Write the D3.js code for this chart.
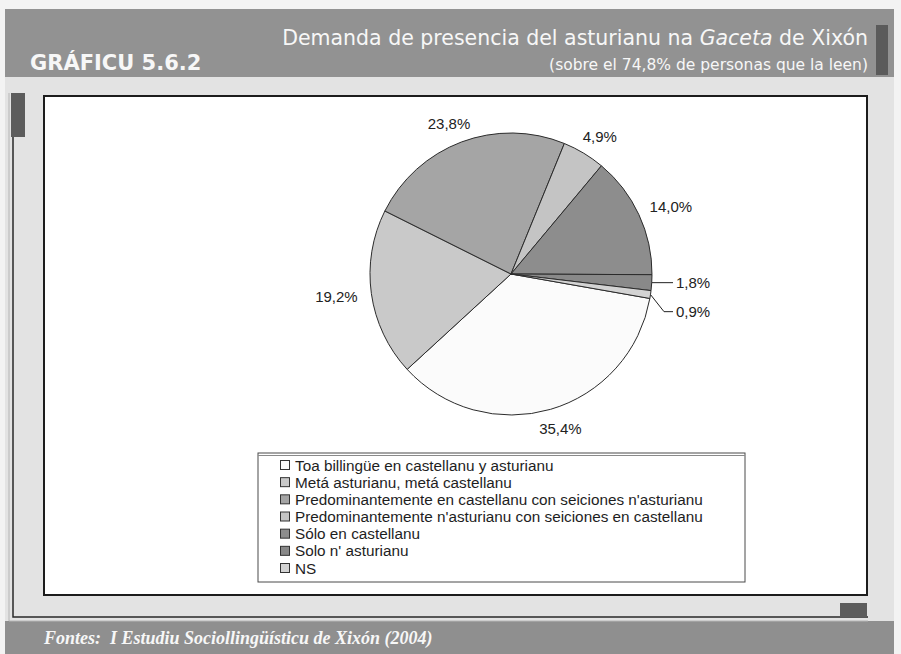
<!DOCTYPE html>
<html>
<head>
<meta charset="utf-8">
<script src="https://cdn.jsdelivr.net/npm/d3@7"></script>
<style>
  body { margin: 0; background: #f3f3f3; }
  svg { display: block; }
</style>
</head>
<body>
<svg id="chart" width="901" height="654"></svg>
<script>
// Categories of the Gaceta language demand, in pie order (clockwise)
const categories = [
  "Toa billingüe en castellanu y asturianu",
  "Metá asturianu, metá castellanu",
  "Predominantemente en castellanu con seiciones n'asturianu",
  "Predominantemente n'asturianu con seiciones en castellanu",
  "Sólo en castellanu",
  "Solo n' asturianu",
  "NS"
];
// Share of readers, percent
const values = [35.4, 19.2, 23.8, 4.9, 14.0, 1.8, 0.9];
// Grey fills for each slice
const sliceFills = ["#fbfbfb", "#c9c9c9", "#a5a5a5", "#c4c4c4", "#8d8d8d", "#898989", "#d3d3d3"];

const headerLabel = "GRÁFICU 5.6.2";
const titleParts = ["Demanda de presencia del asturianu na ", "Gaceta", " de Xixón"];
const subtitle = "(sobre el 74,8% de personas que la leen)";
const sourceNote = "Fontes:  I Estudiu Sociollingüísticu de Xixón (2004)";

const svg = d3.select("#chart");
const W = 901, H = 654;

// ---- page frame ----
svg.append("rect").attr("width", W).attr("height", H).attr("fill", "#f3f3f3");
svg.append("rect").attr("x", 5).attr("y", 77).attr("width", 889).attr("height", 544).attr("fill", "#e3e3e3");
svg.append("rect").attr("x", 5).attr("y", 9).attr("width", 889).attr("height", 68).attr("fill", "#929292");
svg.append("rect").attr("x", 5).attr("y", 621).attr("width", 889).attr("height", 33).attr("fill", "#8f8f8f");
svg.append("rect").attr("x", 876).attr("y", 25).attr("width", 12).attr("height", 50).attr("fill", "#5b5b5b");

// L-shaped outline with its two dark tabs
svg.append("path").attr("d", "M9,93V621H868").attr("fill", "none").attr("stroke", "#b5b5b5").attr("stroke-width", 1);
svg.append("path").attr("d", "M13,93V617H868").attr("fill", "none").attr("stroke", "#2a2a2a").attr("stroke-width", 1.5);
svg.append("rect").attr("x", 11).attr("y", 93).attr("width", 14).attr("height", 44).attr("fill", "#5c5c5c");
svg.append("rect").attr("x", 840).attr("y", 603).attr("width", 27).attr("height", 14).attr("fill", "#5c5c5c");

// chart area
svg.append("rect").attr("x", 44).attr("y", 96).attr("width", 823).attr("height", 499)
  .attr("fill", "#ffffff").attr("stroke", "#1c1c1c").attr("stroke-width", 2);

// ---- header texts ----
const title = svg.append("text").attr("x", 868).attr("y", 45).attr("text-anchor", "end")
  .attr("font-family", "DejaVu Sans").attr("font-size", 20.5).attr("fill", "#f7f7f7");
title.selectAll("tspan").data(titleParts).join("tspan")
  .attr("font-style", (d, i) => i === 1 ? "italic" : "normal")
  .text(d => d);

svg.append("text").attr("x", 868).attr("y", 70).attr("text-anchor", "end")
  .attr("font-family", "DejaVu Sans").attr("font-size", 15.5).attr("fill", "#f7f7f7")
  .text(subtitle);

svg.append("text").attr("x", 30).attr("y", 70)
  .attr("font-family", "DejaVu Sans").attr("font-weight", "bold").attr("font-size", 21)
  .attr("fill", "#f7f7f7").text(headerLabel);

svg.append("text").attr("x", 44).attr("y", 644)
  .attr("font-family", "Liberation Serif").attr("font-weight", "bold").attr("font-style", "italic")
  .attr("font-size", 18).attr("fill", "#f7f7f7").attr("xml:space", "preserve").text(sourceNote);

// ---- pie ----
const cx = 511, cy = 274, r = 141;
const firstSliceAngle = 100 * Math.PI / 180;
const pie = d3.pie().sort(null).value(d => d)
  .startAngle(firstSliceAngle).endAngle(firstSliceAngle + 2 * Math.PI);
const arcs = pie(values);
const arc = d3.arc().innerRadius(0).outerRadius(r);

const g = svg.append("g").attr("transform", `translate(${cx},${cy})`);
g.selectAll("path.slice").data(arcs).join("path")
  .attr("class", "slice")
  .attr("d", arc)
  .attr("fill", (d, i) => sliceFills[i])
  .attr("stroke", "#2b2b2b").attr("stroke-width", 1);

const locale = d3.formatLocale({ decimal: ",", thousands: ".", grouping: [3], currency: ["", "€"] });
const fmt = locale.format(".1f");
const labelFont = 15;
const smallShare = 3;

// labels for the larger slices sit just outside the rim
const big = arcs.filter(d => d.data >= smallShare);
const labelR = r + 14;
big.forEach(d => {
  const a = (d.startAngle + d.endAngle) / 2;
  const sx = Math.sin(a), sy = -Math.cos(a);
  const t = g.append("text")
    .attr("font-family", "Liberation Sans, Arial").attr("font-size", labelFont)
    .attr("fill", "#222").attr("text-anchor", "middle")
    .text(fmt(d.data) + "%");
  const w = t.node().getComputedTextLength();
  const h = labelFont * 0.75;
  const px = labelR * sx + sx * w / 2;
  const py = labelR * sy + sy * h / 2;
  t.attr("x", px).attr("y", py + h / 2);
});

// the thin slices get leader lines on the right
const small = arcs.filter(d => d.data < smallShare);
const lx = r + 21;
let prevY = -Infinity;
small.forEach(d => {
  const a = (d.startAngle + d.endAngle) / 2;
  const ex = r * Math.sin(a), ey = -r * Math.cos(a);
  const ly = Math.max(ey, prevY + 29);
  prevY = ly;
  g.append("polyline")
    .attr("points", [[ex, ey], [lx - 9, ly], [lx, ly]].map(p => p.join(",")).join(" "))
    .attr("fill", "none").attr("stroke", "#222").attr("stroke-width", 1);
  g.append("text").attr("x", lx + 3).attr("y", ly + 5.5)
    .attr("font-family", "Liberation Sans, Arial").attr("font-size", labelFont)
    .attr("fill", "#222").text(fmt(d.data) + "%");
});

// ---- legend ----
const lgX = 258, lgY = 453, lgW = 487, lgH = 129;
svg.append("rect").attr("x", lgX).attr("y", lgY).attr("width", lgW).attr("height", lgH)
  .attr("fill", "#fff").attr("stroke", "#4a4a4a").attr("stroke-width", 1);
svg.append("line").attr("x1", lgX).attr("x2", lgX + lgW).attr("y1", lgY + 2.5).attr("y2", lgY + 2.5)
  .attr("stroke", "#8a8a8a").attr("stroke-width", 1);

const rowY = d3.scalePoint().domain(d3.range(categories.length)).range([465, 568]);
const items = svg.append("g").selectAll("g").data(categories).join("g")
  .attr("transform", (d, i) => `translate(280,${rowY(i)})`);
items.append("rect").attr("x", 0.5).attr("y", -4.5).attr("width", 9).attr("height", 9)
  .attr("fill", (d, i) => sliceFills[i]).attr("stroke", "#333").attr("stroke-width", 1);
items.append("text").attr("x", 15).attr("y", 5.5)
  .attr("font-family", "Liberation Sans, Arial").attr("font-size", 15.3).attr("fill", "#1e1e1e")
  .text(d => d);
</script>
</body>
</html>
